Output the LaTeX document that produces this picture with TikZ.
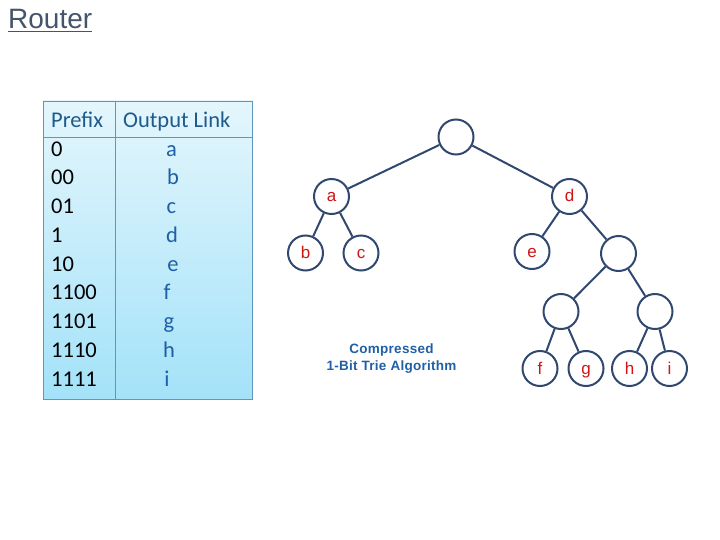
\documentclass[tikz,border=0pt]{standalone}
\usepackage{fontspec}
\setmainfont{Liberation Sans}
\newfontfamily\calfont{Carlito}
\newfontfamily\capfont[LetterSpace=2]{Liberation Sans}
\definecolor{titlecol}{RGB}{68,84,106}
\definecolor{hdrcol}{RGB}{31,90,140}
\definecolor{linkcol}{RGB}{30,95,165}
\definecolor{tabtop}{RGB}{228,246,252}
\definecolor{tabbot}{RGB}{163,226,249}
\definecolor{tabline}{RGB}{95,150,190}
\definecolor{treeline}{RGB}{48,72,112}
\definecolor{labred}{RGB}{210,20,20}
\definecolor{capcol}{RGB}{31,95,165}
\tikzset{
  tnode/.style={circle, draw=treeline, line width=2pt, minimum size=35pt, inner sep=0pt,
    text=labred, font=\fontsize{17}{17}\selectfont, fill=white, text height=11pt, text depth=0pt},
  tedge/.style={draw=treeline, line width=2pt},
  prefixtxt/.style={anchor=base west, inner sep=0pt, text=black, font=\calfont\fontsize{22.5}{22.5}\selectfont},
  linktxt/.style={anchor=base, inner sep=0pt, text=linkcol, font=\calfont\fontsize{22.5}{22.5}\selectfont},
  hdrtxt/.style={anchor=base west, inner sep=0pt, text=hdrcol, font=\calfont\fontsize{22.5}{22.5}\selectfont},
}
\begin{document}
\begin{tikzpicture}[x=1pt,y=-1pt]
\useasboundingbox (0,0) rectangle (720,540);
% title
\node[anchor=base west, inner sep=0pt, text=titlecol, font=\fontsize{28}{28}\selectfont] (title) at (8,28.3) {Router};
\draw[titlecol, line width=1.4pt] ([yshift=-3.3pt]title.base west) -- ([yshift=-3.3pt]title.base east);
% table
\shade[top color=tabtop, bottom color=tabbot] (43.3,101) rectangle (252.3,399.5);
\draw[tabline, line width=0.9pt] (43.3,101) rectangle (252.3,399.5);
\draw[tabline, line width=0.9pt] (43.3,137.5) -- (252.3,137.5);
\draw[tabline, line width=0.9pt] (115.5,101) -- (115.5,399.5);
\node[hdrtxt] (hp) at (51,127.3) {Prefix};
\node[hdrtxt] (ho) at (123,127.3) {Output Link};
\foreach \p/\l/\lx [count=\i from 0] in {0/a/171.5, 00/b/173, 01/c/171.5, 1/d/172, 10/e/173, 1100/f/167, 1101/g/169, 1110/h/169, 1111/i/167}{
  \node[prefixtxt] (p\i) at (51,{156.2+28.75*\i}) {\p};
  \node[linktxt] (l\i) at (\lx,{156.2+28.75*\i}) {\l};
}
% tree
\node[tnode] (root) at (456,137) {};
\node[tnode] (a) at (331.5,196.5) {a};
\node[tnode] (d) at (569.5,196.5) {d};
\node[tnode] (b) at (305.5,253) {b};
\node[tnode] (c) at (361,253) {c};
\node[tnode] (e) at (532,251.5) {e};
\node[tnode] (r1) at (618.5,253.5) {};
\node[tnode] (fg) at (561,311.5) {};
\node[tnode] (hi) at (655,311.5) {};
\node[tnode] (f) at (540,368.5) {f};
\node[tnode] (g) at (586,368.5) {g};
\node[tnode] (h) at (629.5,368.5) {h};
\node[tnode] (i) at (669.5,368.5) {i};
\foreach \u/\v in {root/a, root/d, a/b, a/c, d/e, d/r1, r1/fg, r1/hi, fg/f, fg/g, hi/h, hi/i}
  \draw[tedge] (\u) -- (\v);
% caption
\node[align=center, text=capcol, font=\capfont\bfseries\fontsize{13.5}{16.5}\selectfont, inner sep=0pt] (cap) at (391.5,358.5) {Compressed\\1-Bit Trie Algorithm};
\end{tikzpicture}
\end{document}
